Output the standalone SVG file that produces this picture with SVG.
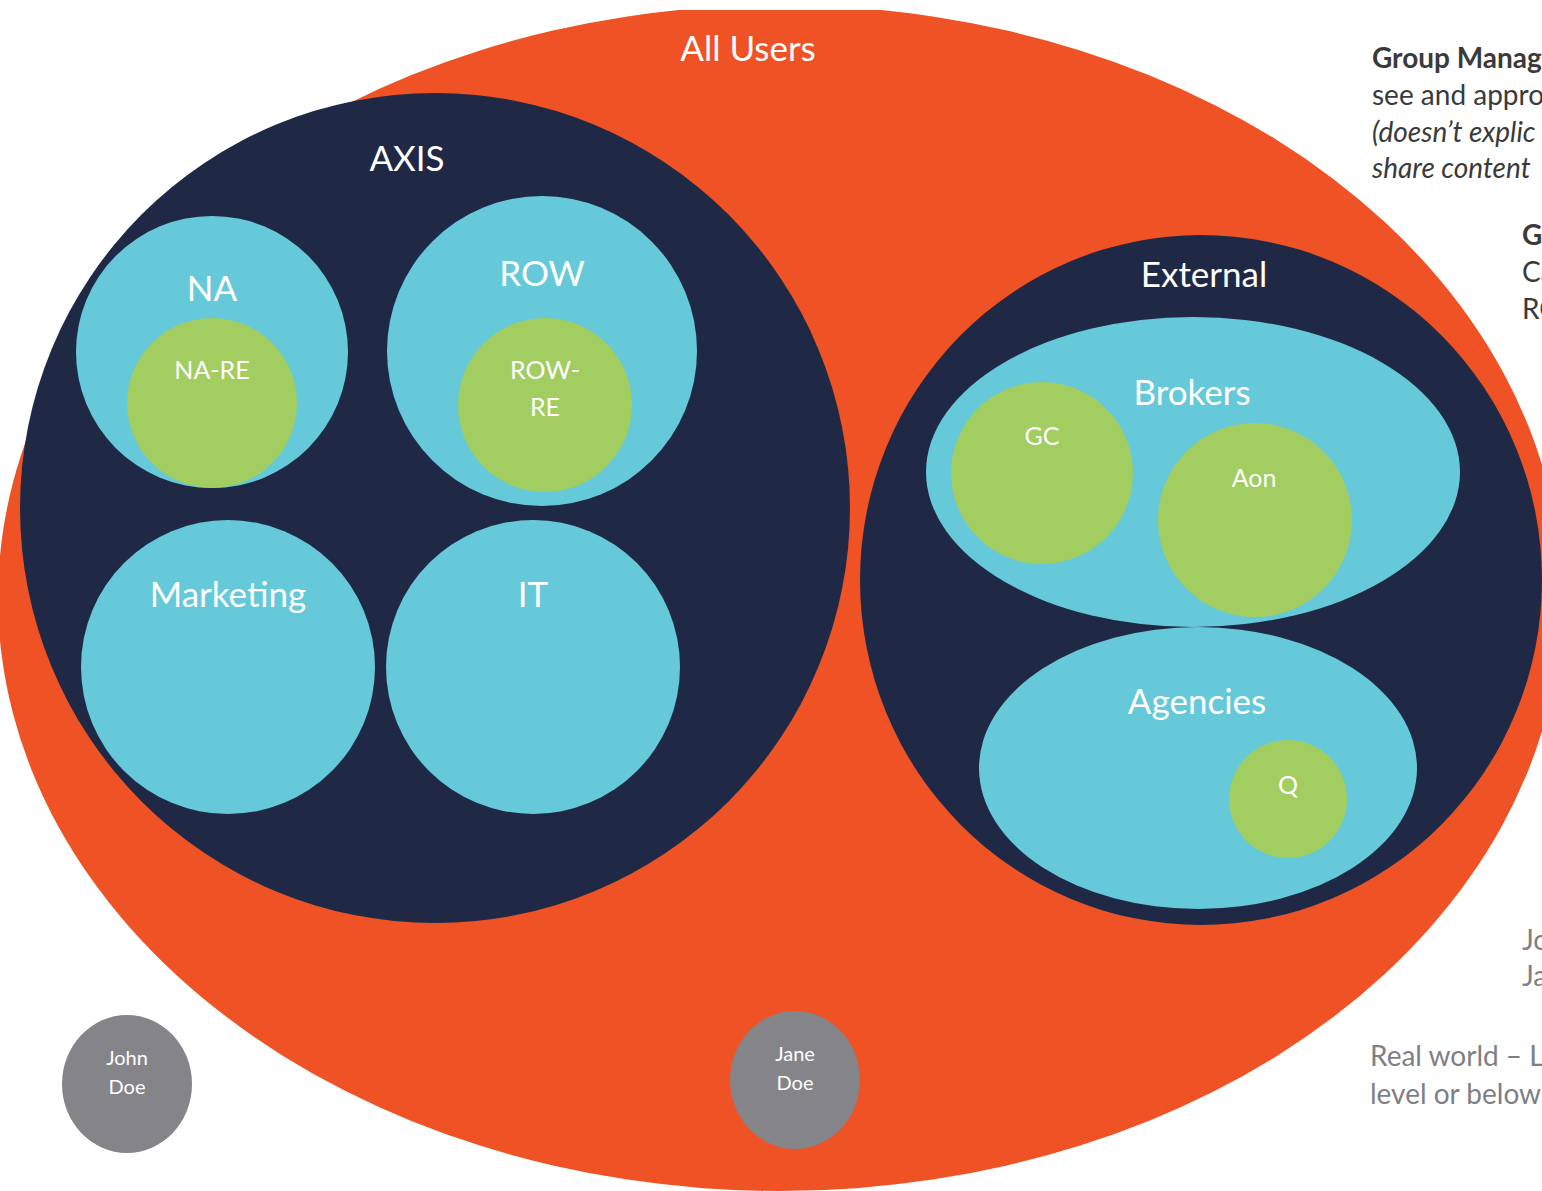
<svg xmlns="http://www.w3.org/2000/svg" width="1542" height="1191" viewBox="0 0 1542 1191">
<style>
.or{fill:#EF5325}.nv{fill:#1F2946}.cy{fill:#65C9D9}.gr{fill:#A2CD61}.gy{fill:#858489}
text{font-family:Lato,"Liberation Sans",sans-serif}
.w{fill:#fff;text-anchor:middle}
.l{font-size:35px}.m{font-size:25px}.s{font-size:20px}
.dk{fill:#3A3A3A;font-size:28px}.lg{fill:#7F7F85;font-size:28px}
</style>
<defs><clipPath id="cp"><rect x="0" y="10" width="1542" height="1181"/></clipPath></defs>
<g id="all-users"><ellipse class="or" cx="780" cy="598" rx="782" ry="593" clip-path="url(#cp)"/><text class="w l" x="748" y="61">All Users</text></g>
<g id="axis"><circle class="nv" cx="435" cy="508" r="415"/><text class="w l" x="407" y="171">AXIS</text></g>
<g id="na"><circle class="cy" cx="212" cy="352" r="136"/><text class="w l" x="212" y="301">NA</text></g>
<g id="na-re"><circle class="gr" cx="212" cy="403" r="85"/><text class="w m" x="212" y="379">NA-RE</text></g>
<g id="row"><circle class="cy" cx="542" cy="351" r="155"/><text class="w l" x="542" y="286">ROW</text></g>
<g id="row-re"><circle class="gr" cx="545" cy="405" r="87"/><text class="w m" x="545" y="379">ROW-</text><text class="w m" x="545" y="416">RE</text></g>
<g id="marketing"><circle class="cy" cx="228" cy="667" r="147"/><text class="w l" x="228" y="607">Marketing</text></g>
<g id="it"><circle class="cy" cx="533" cy="667" r="147"/><text class="w l" x="533" y="607">IT</text></g>
<g id="external"><ellipse class="nv" cx="1201" cy="580" rx="341" ry="345"/><text class="w l" x="1204" y="287">External</text></g>
<g id="brokers"><ellipse class="cy" cx="1193" cy="472" rx="267" ry="155"/><text class="w l" x="1192" y="405">Brokers</text></g>
<g id="gc"><circle class="gr" cx="1042" cy="473" r="91"/><text class="w m" x="1042" y="445">GC</text></g>
<g id="aon"><circle class="gr" cx="1255" cy="520" r="97"/><text class="w m" x="1254" y="487">Aon</text></g>
<g id="agencies"><ellipse class="cy" cx="1198" cy="768" rx="219" ry="141"/><text class="w l" x="1197" y="714">Agencies</text></g>
<g id="q"><circle class="gr" cx="1288" cy="799" r="59"/><text class="w m" x="1288" y="794">Q</text></g>
<g id="john-doe"><ellipse class="gy" cx="127" cy="1084" rx="65" ry="69"/><text class="w s" x="127" y="1065">John</text><text class="w s" x="127" y="1094">Doe</text></g>
<g id="jane-doe"><ellipse class="gy" cx="795" cy="1080" rx="65" ry="69"/><text class="w s" x="795" y="1061">Jane</text><text class="w s" x="795" y="1090">Doe</text></g>
<g id="notes">
<text class="dk" x="1372" y="68" font-weight="bold">Group Manag</text>
<text class="dk" x="1372" y="105">see and appro</text>
<text class="dk" x="1372" y="142" font-style="italic">(doesn’t explic</text>
<text class="dk" x="1372" y="178" font-style="italic">share content</text>
<text class="dk" x="1522" y="245" font-weight="bold">G</text>
<text class="dk" x="1522" y="282">Ca</text>
<text class="dk" x="1522" y="319">RO</text>
<text class="lg" x="1522" y="950">Jo</text>
<text class="lg" x="1522" y="986">Ja</text>
<text class="lg" x="1370" y="1066">Real world – L</text>
<text class="lg" x="1370" y="1104">level or below</text>
</g>
<g id="connectors"/>
</svg>
